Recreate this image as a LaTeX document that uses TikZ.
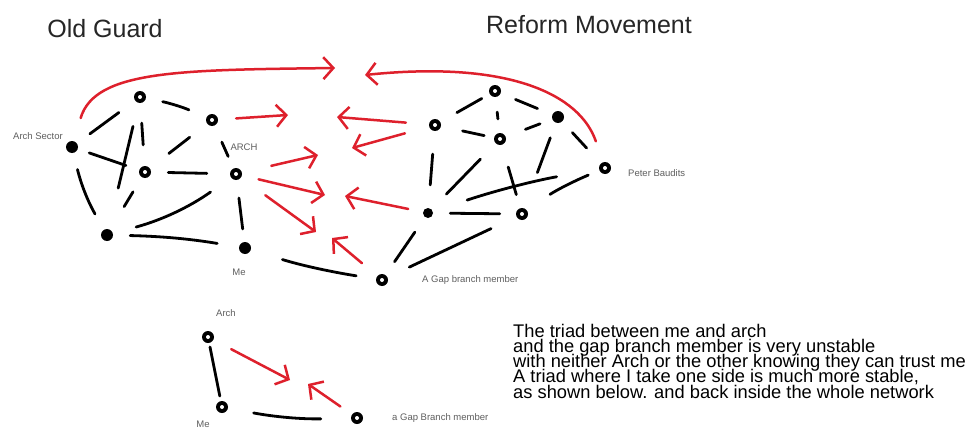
\documentclass[tikz,border=0pt]{standalone}
\usepackage{fontspec}
\setmainfont{Liberation Sans}
\usetikzlibrary{arrows.meta}
\definecolor{penred}{RGB}{222,32,44}
\definecolor{labgray}{RGB}{95,95,95}
\begin{document}
\begin{tikzpicture}[x=1pt,y=-1pt,
  dot/.style={circle,fill=black,inner sep=0pt,minimum size=12pt},
  ring/.style={dot,path picture={\fill[white] (path picture bounding box.center) circle (2pt);}},
  blk/.style={line width=2.8pt,line cap=round,black},
  redarr/.style={line width=2.5pt,line cap=round,line join=round,penred,-{Straight Barb[length=10pt,width=22pt,line width=2.5pt]}},
  title/.style={font=\fontsize{25}{28}\selectfont,text=black!85},
  lab/.style={font=\fontsize{9.5}{11}\selectfont,text=labgray,inner sep=0pt},
  note/.style={font=\fontsize{18.3}{20}\selectfont,inner sep=0pt,anchor=base west}]
\useasboundingbox[fill=white] (0,0) rectangle (974,428);

% titles
\node[title] (tOld) at (105,29) {Old Guard};
\node[title] (tRef) at (589,25) {Reform Movement};

% Old Guard nodes
\node[dot]  (a1) at (72,147) {};
\node[ring] (a2) at (140,97) {};
\node[ring] (a3) at (212,120) {};
\node[ring] (a4) at (145,172) {};
\node[ring] (a5) at (236,174) {};
\node[dot]  (a6) at (107,235) {};
\node[dot]  (a7) at (245,248) {};
\node[lab] (la1) at (38,136) {Arch Sector};
\node[lab] (la5) at (244,147) {ARCH};
\node[lab] (la7) at (239,272) {Me};

% Reform nodes
\node[ring] (r1) at (495,91) {};
\node[ring] (r2) at (435,125) {};
\node[ring] (r3) at (500,139) {};
\node[dot]  (r4) at (558,117) {};
\node[ring] (r5) at (605,168) {};
\node[dot,minimum size=10pt] (r6) at (428,213) {};
\node[ring] (r7) at (522,214) {};
\node[ring] (r8) at (382,280) {};
\node[lab,anchor=west] (lr5) at (628,173) {Peter Baudits};
\node[lab,anchor=west] (lr8) at (422,280) {A Gap branch member};

% Old Guard edges
\draw[blk,shorten <=16pt,shorten >=20pt] (a1) -- (a2);
\draw[blk,shorten <=12pt,shorten >=14pt] (a1) -- (a4);
\draw[blk,shorten <=17pt,shorten >=18pt] (a1) to[bend right=8] (a6);
\draw[blk,shorten <=17pt,shorten >=19pt] (a2) to[bend left=6] (a3);
\draw[blk,shorten <=24pt,shorten >=42pt] (a2) -- (a6);
\draw[blk,shorten <=20pt,shorten >=21pt] (a2) -- (a4);
\draw[blk,shorten <=22pt,shorten >=24pt] (a3) -- (a4);
\draw[blk,shorten <=17pt,shorten >=27pt] (a4) -- (a6);
\draw[blk,shorten <=17pt,shorten >=23pt] (a4) -- (a5);
\draw[blk,shorten <=25pt,shorten >=24pt] (a5) to[bend left=10] (a6);
\draw[blk,shorten <=18pt,shorten >=13pt] (a3) -- (a5);
\draw[blk,shorten <=18pt,shorten >=13pt] (a5) -- (a7);
\draw[blk,shorten <=17pt,shorten >=22pt] (a6) to[bend left=4] (a7);
\draw[blk,shorten <=33pt,shorten >=20pt] (a7) to[bend right=4] (r8);

% Reform edges
\draw[blk,shorten <=9pt,shorten >=19pt] (r1) -- (r2);
\draw[blk,shorten <=15pt,shorten >=14pt] (r1) -- (r3);
\draw[blk,shorten <=16pt,shorten >=16pt] (r1) -- (r4);
\draw[blk,shorten <=22pt,shorten >=10pt] (r2) -- (r3);
\draw[blk,shorten <=21pt,shorten >=13pt] (r3) -- (r4);
\draw[blk,shorten <=23pt,shorten >=23pt] (r2) -- (r6);
\draw[blk,shorten <=22pt,shorten >=21pt] (r3) -- (r6);
\draw[blk,shorten <=23pt,shorten >=14pt] (r3) -- (r7);
\draw[blk,shorten <=15pt,shorten >=21pt] (r4) -- (r5);
\draw[blk,shorten <=16pt,shorten >=38pt] (r4) -- (r7);
\draw[blk,shorten <=36pt,shorten >=43pt] (r6) to[bend left=4] (r5);
\draw[blk,shorten <=28pt,shorten >=12pt] (r7) to[bend left=6] (r5);
\draw[blk,shorten <=17pt,shorten >=16pt] (r6) -- (r7);
\draw[blk,shorten <=16pt,shorten >=18pt] (r8) -- (r6);
\draw[blk,shorten <=24pt,shorten >=28pt] (r8) -- (r7);

% arrow tips (free ends)
\coordinate (tL) at (335,68);
\coordinate (tR) at (365,75);
\coordinate (t1) at (288,115);
\coordinate (t2) at (318,155);
\coordinate (t3) at (325,195);
\coordinate (t4) at (316,232);
\coordinate (t5) at (337,117);
\coordinate (t6) at (352,148);
\coordinate (t7) at (345,196);
\coordinate (t8) at (332,238);

% red arrows
\draw[redarr,shorten <=24pt] (a1) .. controls (95,70) and (180,70) .. (tL);
\draw[redarr,shorten <=22pt] (r5) .. controls (580,95) and (510,60) .. (tR);
\draw[redarr,shorten <=18pt] (a3) -- (t1);
\draw[redarr,shorten <=30pt] (a5) -- (t2);
\draw[redarr,shorten <=17pt] (a5) -- (t3);
\draw[redarr,shorten <=30pt] (a5) -- (t4);
\draw[redarr,shorten <=23pt] (r2) -- (t5);
\draw[redarr,shorten <=25pt] (r2) -- (t6);
\draw[redarr,shorten <=15pt] (r6) -- (t7);
\draw[redarr,shorten <=20pt] (r8) -- (t8);

% bottom triad
\node[ring] (b1) at (208,337) {};
\node[ring] (b2) at (222,407) {};
\node[ring] (b3) at (357,418) {};
\node[lab] (lb1) at (226,313) {Arch};
\node[lab,anchor=south] (lb2) at (203,427.5) {Me};
\node[lab,anchor=west] (lb3) at (392,418) {a Gap Branch member};
\coordinate (tb1) at (290,380);
\coordinate (tb2) at (308,384);
\draw[blk,shorten <=4pt,shorten >=5pt] (b1) -- (b2);
\draw[blk,shorten <=26pt,shorten >=30pt] (b2) to[bend right=6] (b3);
\draw[redarr,shorten <=20pt] (b1) -- (tb1);
\draw[redarr,shorten <=14pt] (b3) -- (tb2);

% note text, one node per line
\node[note] (n1) at (513,337) {The triad between me and arch};
\node[note] (n2) at (513,352.3) {and the gap branch member is very unstable};
\node[note] (n3) at (513,367.6) {with neither Arch or the other knowing they can trust me};
\node[note] (n4) at (513,382.9) {A triad where I take one side is much more stable,};
\node[note] (n5) at (513,398.2) {as shown below. and back inside the whole network};
\end{tikzpicture}
\end{document}
